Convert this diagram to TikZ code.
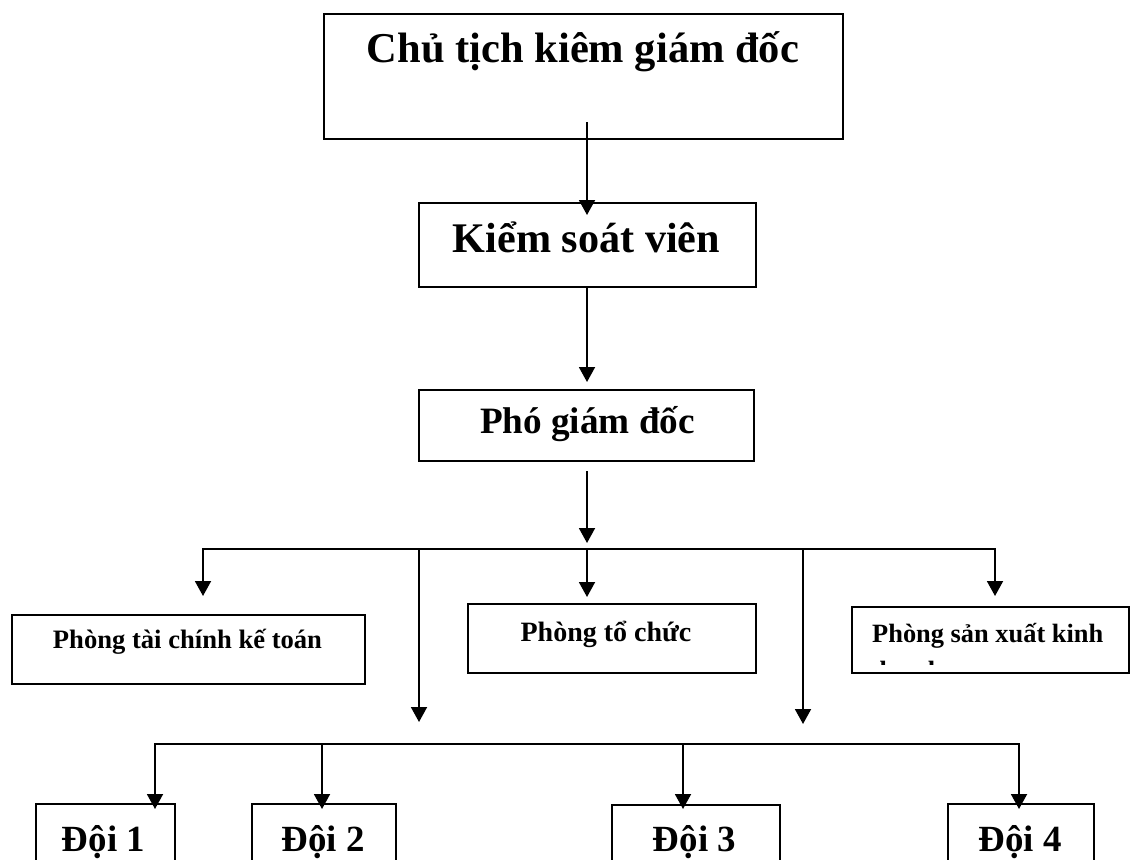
\documentclass[tikz,border=0pt]{standalone}
\usepackage{fontspec}
\setmainfont{Liberation Serif}
\usetikzlibrary{arrows.meta}
\begin{document}
\begin{tikzpicture}[x=1pt,y=-1pt,
  box/.style={draw, line width=1.9pt, inner sep=0pt, anchor=north west},
  lbl/.style={anchor=base, inner sep=0pt},
  conn/.style={line width=1.9pt},
  arr/.style={conn, -{Triangle[width=16pt,length=15pt]}}]
\useasboundingbox (0,0) rectangle (1131,859);
\clip (0,0) rectangle (1131,859);
% boxes
\node[box, minimum width=519pt, minimum height=125pt] (ct) at (323,13) {};
\node[box, minimum width=337pt, minimum height=84pt] (ksv) at (418,202) {};
\node[box, minimum width=335pt, minimum height=71pt] (pgd) at (418,389) {};
\node[box, minimum width=353pt, minimum height=69pt] (tc) at (11,614) {};
\node[box, minimum width=288pt, minimum height=69pt] (to) at (467,603) {};
\node[box, minimum width=277pt, minimum height=66pt] (sx) at (851,606) {};
\node[box, minimum width=139pt, minimum height=100pt] (d1) at (35,803) {};
\node[box, minimum width=144pt, minimum height=100pt] (d2) at (251,803) {};
\node[box, minimum width=168pt, minimum height=100pt] (d3) at (611,804) {};
\node[box, minimum width=146pt, minimum height=100pt] (d4) at (947,803) {};
% texts
\node[lbl, font=\bfseries\fontsize{42.5}{50}\selectfont] (ctT) at (583,63) {Chủ tịch kiêm giám đốc};
\node[lbl, font=\bfseries\fontsize{42.2}{50}\selectfont] (ksvT) at (586.5,252) {Kiểm soát viên};
\node[lbl, font=\bfseries\fontsize{37.2}{44}\selectfont] (pgdT) at (587.5,433) {Phó giám đốc};
\node[lbl, font=\bfseries\fontsize{26.6}{32}\selectfont] (tcT) at (187.5,648) {Phòng tài chính kế toán};
\node[lbl, font=\bfseries\fontsize{28}{33}\selectfont] (toT) at (606,641) {Phòng tổ chức};
\node[lbl, anchor=base west, font=\bfseries\fontsize{26.4}{32}\selectfont] (sxT) at (872,642) {Phòng sản xuất kinh};
\begin{scope}
\clip (853,600) rectangle (1127,664.5);
\node[lbl, anchor=base west, font=\bfseries\fontsize{26.4}{32}\selectfont] (sxT2) at (872,679) {doanh};
\end{scope}
\node[lbl, font=\bfseries\fontsize{36.9}{44}\selectfont] (d1T) at (103.5,851) {Đội 1};
\node[lbl, font=\bfseries\fontsize{36.9}{44}\selectfont] (d2T) at (323,851) {Đội 2};
\node[lbl, font=\bfseries\fontsize{36.9}{44}\selectfont] (d3T) at (694.5,851) {Đội 3};
\node[lbl, font=\bfseries\fontsize{36.9}{44}\selectfont] (d4T) at (1020,851) {Đội 4};
% coordinates
\coordinate (a0) at (587,122);
\coordinate (p0) at (587,471);
\coordinate (bL) at (203,549);
\coordinate (b1) at (587,549);
\coordinate (bA) at (419,549);
\coordinate (bB) at (803,549);
\coordinate (bR) at (995,549);
\coordinate (cA) at (419,722);
\coordinate (cB) at (803,724);
\coordinate (eL) at (155,744);
\coordinate (e2) at (322,744);
\coordinate (e3) at (683,744);
\coordinate (eR) at (1019,744);
% connectors
\draw[arr, shorten >=-13pt] (a0) -- (a0 |- ksv.north);
\draw[arr, shorten >=7pt] (a0 |- ksv.south) -- (a0 |- pgd.north);
\draw[arr, shorten >=6pt] (p0) -- (b1);
\draw[conn, line cap=rect] (bL) -- (bR);
\draw[arr, shorten >=18pt] (bL) -- (bL |- tc.north);
\draw[arr, shorten >=6pt] (b1) -- (b1 |- to.north);
\draw[arr, shorten >=10pt] (bR) -- (bR |- sx.north);
\draw[arr] (bA) -- (cA);
\draw[arr] (bB) -- (cB);
\draw[conn, line cap=rect] (eL) -- (eR);
\draw[arr, shorten >=-6pt] (eL) -- (eL |- d1.north);
\draw[arr, shorten >=-6pt] (e2) -- (e2 |- d2.north);
\draw[arr, shorten >=-5pt] (e3) -- (e3 |- d3.north);
\draw[arr, shorten >=-6pt] (eR) -- (eR |- d4.north);
\end{tikzpicture}
\end{document}
